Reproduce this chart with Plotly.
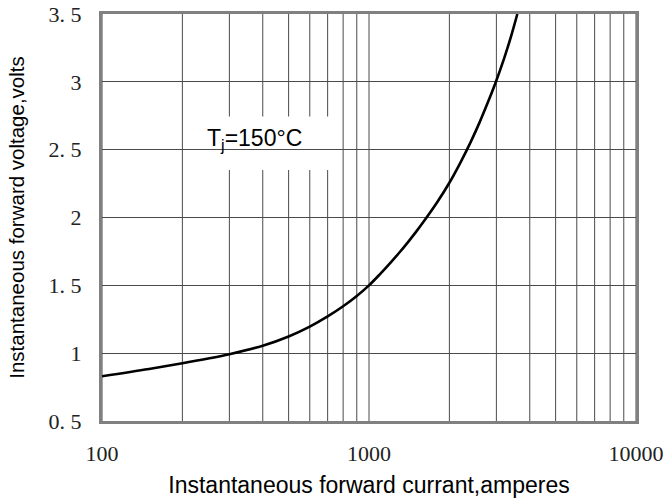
import plotly.graph_objects as go

# Forward characteristic at Tj = 150 °C
current_a = [100, 150, 200, 250, 300, 400, 500, 600, 700, 800, 900, 1000,
             1100, 1200, 1300, 1400, 1500, 1600, 1800, 2000, 2200, 2400,
             2600, 2800, 3000, 3200, 3400, 3594]
voltage_v = [0.83, 0.883, 0.925, 0.96, 0.992, 1.055, 1.123, 1.196, 1.271, 1.346, 1.422, 1.5,
             1.583, 1.664, 1.742, 1.819, 1.894, 1.968, 2.112, 2.256, 2.405, 2.554,
             2.705, 2.858, 3.01, 3.167, 3.331, 3.5]

y_tick_vals = [0.5, 1, 1.5, 2, 2.5, 3, 3.5]
y_tick_text = ["0. 5", "1", "1. 5", "2", "2. 5", "3", "3. 5"]
x_tick_vals = [100, 1000, 10000]
x_tick_text = ["100", "1000", "10000"]
x_grid_vals = [m * d for d in (100, 1000) for m in range(1, 10)] + [10000]

fig = go.Figure()
fig.add_trace(go.Scatter(
    x=current_a, y=voltage_v, mode="lines",
    line=dict(color="black", width=2.6, shape="spline", smoothing=1.0),
    showlegend=False, hoverinfo="skip",
))

grid_col = "#4a4a4a"
frame_col = "#808080"
tick_font = dict(family="Liberation Serif, DejaVu Serif, serif", size=22, color="#222")
sans = "Liberation Sans, Arial, sans-serif"

fig.update_layout(
    width=669, height=502,
    margin=dict(l=102, r=33, t=14, b=81),
    paper_bgcolor="white", plot_bgcolor="white",
    xaxis=dict(
        type="log", range=[2, 4], automargin=False,
        tickvals=x_tick_vals, ticktext=x_tick_text,
        showgrid=False, zeroline=False, ticks="",
        showline=True, mirror=True, linecolor=frame_col, linewidth=3,
        tickfont=tick_font, ticklabelstandoff=11,
        title=dict(text="Instantaneous forward currant,amperes",
                   font=dict(family=sans, size=23, color="black"), standoff=12),
    ),
    yaxis=dict(
        range=[0.5, 3.5], automargin=False,
        tickvals=y_tick_vals, ticktext=y_tick_text,
        showgrid=True, gridcolor=grid_col, gridwidth=1, zeroline=False, ticks="",
        showline=True, mirror=True, linecolor=frame_col, linewidth=3,
        tickfont=tick_font, ticklabelstandoff=13,
        title=dict(text="Instantaneous forward voltage,volts",
                   font=dict(family=sans, size=20.5, color="black"), standoff=19),
    ),
)

# vertical log grid drawn from the minor decade values
for xv in x_grid_vals:
    fig.add_shape(type="line", xref="x", yref="paper", x0=xv, x1=xv, y0=0, y1=1,
                  line=dict(color=grid_col, width=1), layer="below")

# white label panel over the grid
fig.add_shape(type="rect", xref="paper", yref="paper", x0=0.159, x1=0.431, y0=0.617, y1=0.748,
              fillcolor="white", line=dict(width=0), layer="between")

fig.add_annotation(
    xref="paper", yref="paper", x=0.285, y=0.692, xanchor="center", yanchor="middle",
    text="T<sub>j</sub>=150°C", showarrow=False,
    font=dict(family=sans, size=23, color="black"),
)

fig.write_html("out.html")
